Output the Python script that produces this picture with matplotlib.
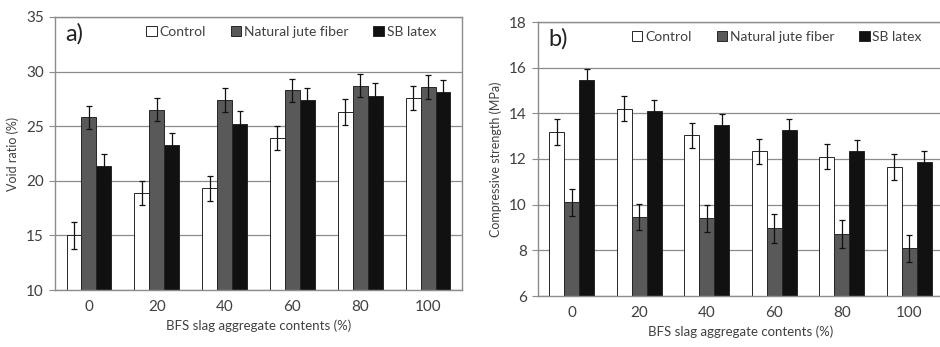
import numpy as np
import matplotlib
matplotlib.use("Agg")
import matplotlib.pyplot as plt
from matplotlib.patches import Patch

plt.rcParams["font.family"] = ["Lato", "DejaVu Sans"]

# data
categories = ["0", "20", "40", "60", "80", "100"]
series = ["Control", "Natural jute fiber", "SB latex"]
colors = ["white", "#595959", "#111111"]

void_control = [15.0, 18.9, 19.3, 23.9, 26.3, 27.6]
void_jute = [25.8, 26.5, 27.4, 28.3, 28.7, 28.6]
void_latex = [21.4, 23.3, 25.2, 27.4, 27.8, 28.1]
void_err_control = [1.2, 1.1, 1.15, 1.1, 1.2, 1.1]
void_err_jute = [1.05, 1.05, 1.07, 1.05, 1.07, 1.07]
void_err_latex = [1.1, 1.1, 1.15, 1.1, 1.15, 1.15]

cs_control = [13.18, 14.2, 13.04, 12.33, 12.1, 11.65]
cs_jute = [10.1, 9.45, 9.4, 8.96, 8.7, 8.09]
cs_latex = [15.47, 14.1, 13.49, 13.26, 12.36, 11.85]
cs_err_control = [0.56, 0.55, 0.55, 0.55, 0.55, 0.55]
cs_err_jute = [0.6, 0.57, 0.6, 0.62, 0.61, 0.6]
cs_err_latex = [0.48, 0.5, 0.5, 0.48, 0.48, 0.5]

TXT = "#404040"
GRID = "#8c8c8c"


def draw_panel(ax, vals, errs, ylim, yticks, ylabel, tag, leg_x):
    x = np.arange(len(categories))
    w = 0.22
    for i, (v, e, c) in enumerate(zip(vals, errs, colors)):
        ax.bar(x + (i - 1) * w, v, w, bottom=0, color=c, edgecolor="#262626",
               linewidth=0.7, zorder=2)
        ax.errorbar(x + (i - 1) * w, v, yerr=e, fmt="none", ecolor="#111111",
                    elinewidth=0.9, capsize=2, capthick=0.9, zorder=3)
    ax.set_xlim(-0.5, len(categories) - 0.5)
    ax.set_ylim(*ylim)
    ax.set_yticks(yticks)
    ax.set_xticks(x)
    ax.set_xticklabels(categories)
    ax.yaxis.grid(True, color=GRID, linewidth=0.9, zorder=0)
    ax.set_axisbelow(True)
    for s in ax.spines.values():
        s.set_color(GRID)
        s.set_linewidth(1.0)
    ax.tick_params(axis="y", length=4, color=GRID, labelsize=11, labelcolor=TXT, pad=4)
    ax.tick_params(axis="x", length=0, labelsize=11, labelcolor=TXT, pad=7)
    ax.set_ylabel(ylabel, fontsize=9, color=TXT, labelpad=5)
    ax.set_xlabel("BFS slag aggregate contents (%)", fontsize=9.5, color=TXT, labelpad=4)
    ax.text(0.025, 0.94, tag, transform=ax.transAxes, fontsize=17, color="#222222",
            va="center", ha="left")
    handles = [Patch(facecolor=c, edgecolor="#262626", linewidth=0.7) for c in colors]
    ax.legend(handles, series, loc="center", bbox_to_anchor=(leg_x, 0.945), ncol=3,
              frameon=False, fontsize=10, handlelength=0.75, handleheight=0.75,
              handletextpad=0.2, columnspacing=1.8, labelcolor=TXT)


fig = plt.figure(figsize=(9.4, 3.47), dpi=100)
ax1 = fig.add_axes([55 / 940, 57 / 347, 407 / 940, 273 / 347])
ax2 = fig.add_axes([538 / 940, 51 / 347, 405 / 940, 274 / 347])

draw_panel(ax1, [void_control, void_jute, void_latex],
           [void_err_control, void_err_jute, void_err_latex],
           (10, 35), [10, 15, 20, 25, 30, 35], "Void ratio (%)", "a)", 0.58)
draw_panel(ax2, [cs_control, cs_jute, cs_latex],
           [cs_err_control, cs_err_jute, cs_err_latex],
           (6, 18), [6, 8, 10, 12, 14, 16, 18], "Compressive strength (MPa)", "b)", 0.59)

fig.savefig("out.png", dpi=100)
